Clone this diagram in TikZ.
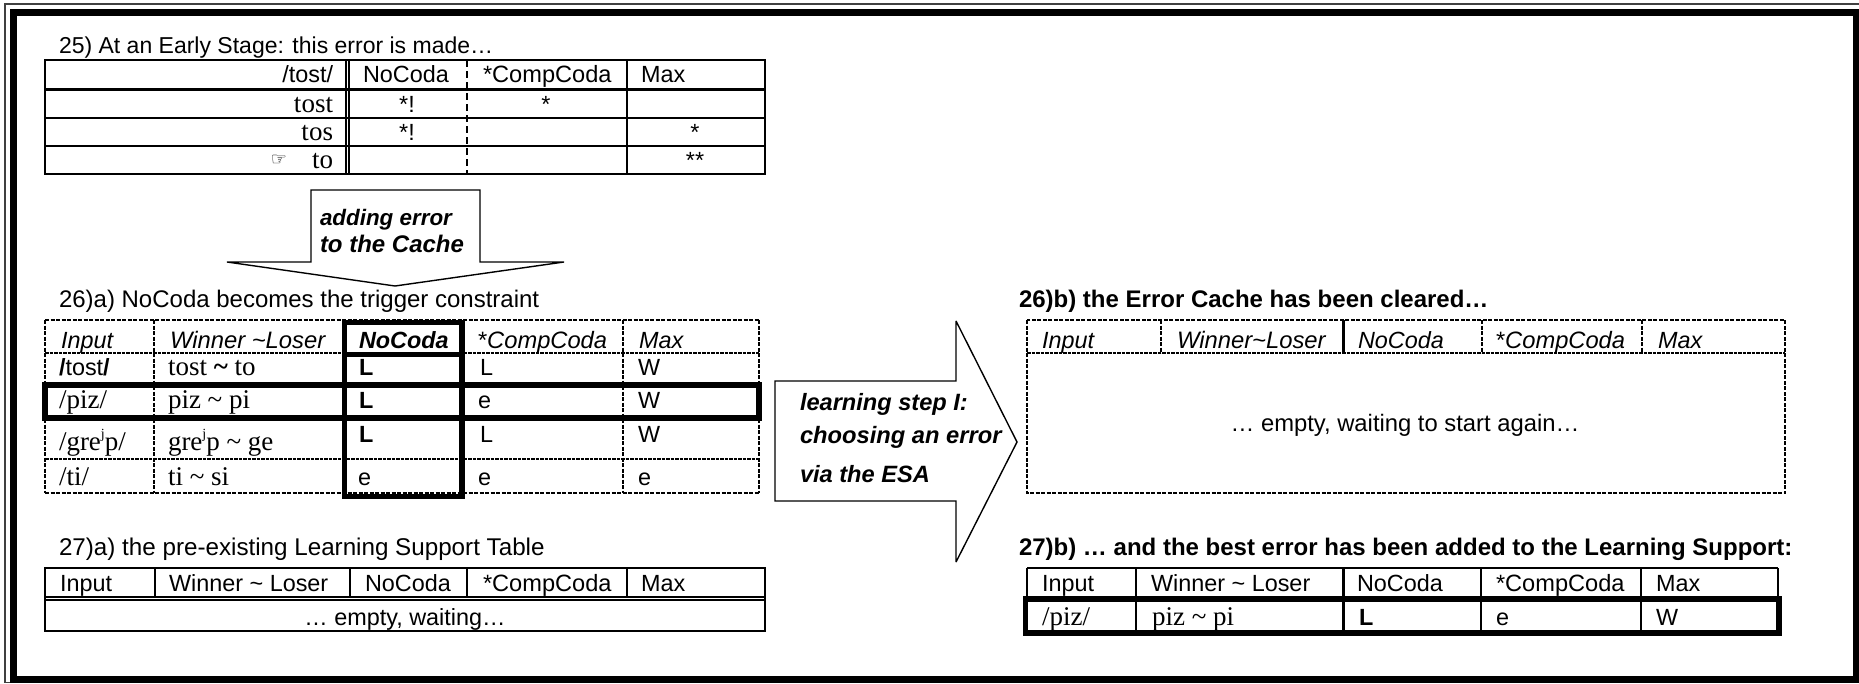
\documentclass[tikz,border=0pt]{standalone}
\usepackage{fontspec}
\setmainfont{Liberation Sans}
\newfontfamily\tms{Liberation Serif}
\newfontfamily\djv{DejaVu Sans}
\newcommand{\tld}{\textasciitilde}
\newcommand{\supj}{\raisebox{0.42em}{\fontsize{14}{14}\selectfont j}}
\tikzset{
  x=1pt,y=-1pt,
  lab/.style={anchor=base west,inner sep=0pt,outer sep=0pt,font=\fontsize{23.4}{26}\selectfont},
  labr/.style={lab,anchor=base east},
  labc/.style={lab,anchor=base},
  fsz/.style={font=\fontsize{#1}{26}\selectfont},
  fszb/.style={font=\fontsize{#1}{26}\selectfont\bfseries},
  fszbi/.style={font=\fontsize{#1}{26}\selectfont\bfseries\itshape},
  fszi/.style={font=\fontsize{#1}{26}\selectfont\itshape},
  ser/.style={font=\fontsize{27}{28}\selectfont\tms},
  hdi/.style={fszi=23.4},
  bfi/.style={fszbi=23.4},
  bft/.style={fszb=23.4},
  grid/.style={line width=1.6pt,draw=black},
  fine/.style={line width=1.2pt,draw=black},
  heavy/.style={line width=6pt,draw=black},
  med/.style={line width=3pt,draw=black},
  dashline/.style={line width=1.8pt,draw=black,dash pattern=on 4pt off 1.5pt},
  boldash/.style={line width=2.2pt,draw=black,dash pattern=on 3.5pt off 1pt},
  sparse/.style={line width=2.8pt,draw=black,dash pattern=on 7pt off 4pt},
  blockarrow/.style={line width=1.4pt,draw=black,fill=white,line join=miter,miter limit=3},
}
\begin{document}
\begin{tikzpicture}
\useasboundingbox (0,0) rectangle (1859,683);
% frame
\draw[line width=1.4pt,draw=black!75] (1859,4) -- (5,4) -- (5,682.5) -- (1859,682.5);
\draw[line width=7pt,draw=black,line join=miter] (1856.5,12) -- (13.5,12) -- (13.5,679) -- (1856.5,679) -- cycle;

% Table 25
\node[lab,fsz=23] (t25) at (59,53) {25) At an Early Stage: this error is made…};
\draw[grid] (45,60) rectangle (765,174);
\draw[med] (45,89) -- (765,89);
\draw[grid] (45,118) -- (765,118) (45,146) -- (765,146);
\draw[fine] (346,60) -- (346,174) (349,60) -- (349,174);
\draw[sparse] (467,60) -- (467,174);
\draw[grid] (627,60) -- (627,174);
\node[labr] (a1) at (333,82) {/tost/};
\node[lab] (a2) at (363,82) {NoCoda};
\node[lab,fsz=23.6] (a3) at (483,82) {*CompCoda};
\node[lab] (a4) at (641,82) {Max};
\node[labr,ser] (b1) at (333,112) {tost};
\node[labc] (b2) at (407,112) {*!};
\node[labc] (b3) at (546,112) {*};
\node[labr,ser] (c1) at (333,140) {tos};
\node[labc] (c2) at (407,140) {*!};
\node[labc] (c3) at (695,140) {*};
\node[labr,ser] (d1) at (333,168) {to};
\node[labc,font=\fontsize{18}{18}\selectfont\djv] (d0) at (279,165) {☞};
\node[labc] (d3) at (695,168) {**};

% down arrow
\draw[blockarrow] (311,190) -- (480,190) -- (480,262) -- (564,262) -- (395,286) -- (227,262) -- (311,262) -- cycle;
\node[lab,fszbi=22.4] (ar1) at (320,225) {adding error};
\node[lab,fszbi=24] (ar2) at (320,252) {to the Cache};

% Table 26a
\node[lab,fsz=24] (t26a) at (59,307) {26)a) NoCoda becomes the trigger constraint};
\draw[dashline] (45,320) -- (759,320) (45,320) -- (45,493) (759,320) -- (759,493) (45,493) -- (759,493);
\draw[boldash] (45,353) -- (759,353) (45,459) -- (759,459);
\draw[dashline] (154,320) -- (154,493) (623,320) -- (623,493);
\draw[heavy,line width=5.5pt] (45,385) rectangle (759,418);
\draw[heavy,line width=5.5pt] (344.5,320) -- (344.5,499) (462,320) -- (462,499);
\draw[heavy,line width=5pt] (342,322) -- (465,322) (342,354) -- (465,354) (342,496.5) -- (465,496.5);
\node[lab,hdi] (e1) at (61,348) {Input};
\node[lab,fszi=23.8] (e2) at (170,348) {Winner \tld Loser};
\node[lab,bfi] (e3) at (359,348) {NoCoda};
\node[lab,fszi=23.7] (e4) at (478,348) {{\upshape *}CompCoda};
\node[lab,hdi] (e5) at (639,348) {Max};
\node[lab] (f1) at (59,375) {\textbf{/}tost\textbf{/}};
\node[lab,ser] (f2) at (168,375) {tost \textbf{\tld} to};
\node[lab,bft] (f3) at (359,375) {L};
\node[lab] (f4) at (480,375) {L};
\node[lab] (f5) at (638,375) {W};
\node[lab,ser] (g1) at (59,408) {/piz/};
\node[lab,ser] (g2) at (168,408) {piz \tld{} pi};
\node[lab,bft] (g3) at (359,408) {L};
\node[lab] (g4) at (478,408) {e};
\node[lab] (g5) at (638,408) {W};
\node[lab,ser] (h1) at (59,450) {/gre\supj p/};
\node[lab,ser] (h2) at (168,450) {gre\supj p \tld{} ge};
\node[lab,bft] (h3) at (359,442) {L};
\node[lab] (h4) at (480,442) {L};
\node[lab] (h5) at (638,442) {W};
\node[lab,ser] (i1) at (59,485) {/ti/};
\node[lab,ser] (i2) at (168,485) {ti \tld{} si};
\node[lab] (i3) at (358,485) {e};
\node[lab] (i4) at (478,485) {e};
\node[lab] (i5) at (638,485) {e};

% Table 27a
\node[lab,fsz=24.2] (t27a) at (59,555) {27)a) the pre-existing Learning Support Table};
\draw[grid] (45,568) rectangle (765,631);
\draw[fine] (45,597) -- (765,597) (45,600) -- (765,600);
\draw[grid] (155,568) -- (155,597) (350,568) -- (350,597) (467,568) -- (467,597) (627,568) -- (627,597);
\node[lab] (j1) at (60,591) {Input};
\node[lab] (j2) at (169,591) {Winner \tld{} Loser};
\node[lab] (j3) at (365,591) {NoCoda};
\node[lab,fsz=23.6] (j4) at (483,591) {*CompCoda};
\node[lab] (j5) at (641,591) {Max};
\node[labc] (j6) at (405,625) {… empty, waiting…};

% right arrow
\draw[blockarrow] (775,381) -- (956,381) -- (956,321) -- (1017,442) -- (956,562) -- (956,501) -- (775,501) -- cycle;
\node[lab,fszbi=23.6] (r1) at (800,410) {learning step I:};
\node[lab,fszbi=23.7] (r2) at (800,443) {choosing an error};
\node[lab,fszbi=23.6] (r3) at (800,482) {via the ESA};

% Table 26b
\node[lab,fszb=24] (t26b) at (1019,307) {26)b) the Error Cache has been cleared…};
\draw[dashline] (1027,320) rectangle (1785,493);
\draw[boldash] (1027,353) -- (1785,353);
\draw[dashline] (1161,320) -- (1161,353) (1482,320) -- (1482,353) (1642,320) -- (1642,353);
\draw[med] (1343,320) -- (1343,353);
\node[lab,hdi] (k1) at (1042,348) {Input};
\node[lab,fszi=23.8] (k2) at (1177,348) {Winner\tld Loser};
\node[lab,hdi] (k3) at (1358,348) {NoCoda};
\node[lab,fszi=23.7] (k4) at (1496,348) {{\upshape *}CompCoda};
\node[lab,hdi] (k5) at (1658,348) {Max};
\node[labc,fsz=23.8] (k6) at (1405,431) {… empty, waiting to start again…};

% Table 27b
\node[lab,fszb=24] (t27b) at (1019,555) {27)b) … and the best error has been added to the Learning Support:};
\draw[grid] (1027,568) -- (1778,568) (1027,568) -- (1027,599) (1778,568) -- (1778,599);
\draw[grid] (1136,568) -- (1136,633) (1481,568) -- (1481,633) (1641,568) -- (1641,633);
\draw[med] (1343,568) -- (1343,633);
\draw[heavy,line width=5.5pt] (1025.5,599) rectangle (1779,633);
\node[lab] (m1) at (1042,591) {Input};
\node[lab] (m2) at (1151,591) {Winner \tld{} Loser};
\node[lab] (m3) at (1357,591) {NoCoda};
\node[lab,fsz=23.6] (m4) at (1496,591) {*CompCoda};
\node[lab] (m5) at (1656,591) {Max};
\node[lab,ser] (n1) at (1042,625) {/piz/};
\node[lab,ser] (n2) at (1152,625) {piz \tld{} pi};
\node[lab,bft] (n3) at (1359,625) {L};
\node[lab] (n4) at (1496,625) {e};
\node[lab] (n5) at (1656,625) {W};
\end{tikzpicture}
\end{document}
